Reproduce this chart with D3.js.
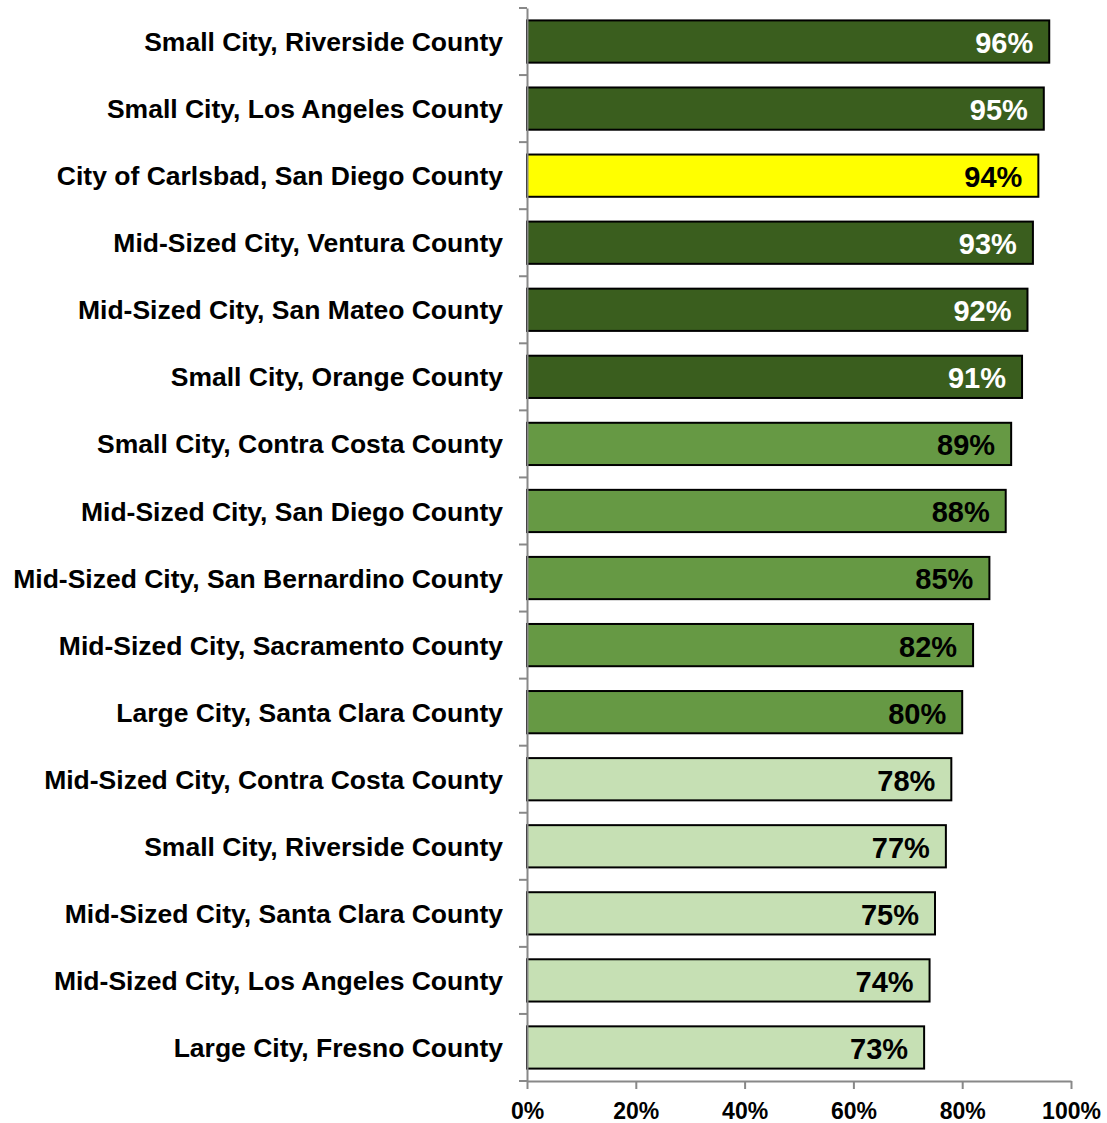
<!DOCTYPE html>
<html>
<head>
<meta charset="utf-8">
<script src="https://cdn.jsdelivr.net/npm/d3@7"></script>
<style>
  html, body { margin: 0; padding: 0; background: #fff; }
  svg { display: block; }
  text { font-family: "Liberation Sans", Arial, sans-serif; font-weight: bold; }
</style>
</head>
<body>
<svg id="chart" width="1107" height="1123"></svg>
<script>
// City names, top to bottom
const cities = [
  "Small City, Riverside County",
  "Small City, Los Angeles County",
  "City of Carlsbad, San Diego County",
  "Mid-Sized City, Ventura County",
  "Mid-Sized City, San Mateo County",
  "Small City, Orange County",
  "Small City, Contra Costa County",
  "Mid-Sized City, San Diego County",
  "Mid-Sized City, San Bernardino County",
  "Mid-Sized City, Sacramento County",
  "Large City, Santa Clara County",
  "Mid-Sized City, Contra Costa County",
  "Small City, Riverside County ",
  "Mid-Sized City, Santa Clara County",
  "Mid-Sized City, Los Angeles County",
  "Large City, Fresno County"
];
// Share of respondents (%)
const values = [96, 95, 94, 93, 92, 91, 89, 88, 85, 82, 80, 78, 77, 75, 74, 73];
// Tier of each city: 0 = top tier, 1 = middle, 2 = lower, "hl" = highlighted city
const tiers = [0, 0, "hl", 0, 0, 0, 1, 1, 1, 1, 1, 2, 2, 2, 2, 2];
const xTicks = [0, 20, 40, 60, 80, 100];

const fills = { 0: "#3a5e1e", 1: "#669944", 2: "#c6e0b4", hl: "#ffff00" };
const labelColors = { 0: "#ffffff", 1: "#000000", 2: "#000000", hl: "#000000" };

const svg = d3.select("#chart");
const margin = { left: 527, right: 36, top: 8, bottom: 42 };
const W = 1107, H = 1123;

const x = d3.scaleLinear().domain([0, 100]).range([margin.left, W - margin.right]);
const y = d3.scaleBand().domain(d3.range(cities.length))
  .range([margin.top, H - margin.bottom]).paddingInner(0.37).paddingOuter(0.185);

// Bars
svg.append("g").selectAll("rect").data(values).join("rect")
  .attr("x", x(0))
  .attr("y", (d, i) => y(i))
  .attr("width", d => x(d) - x(0))
  .attr("height", y.bandwidth())
  .attr("fill", (d, i) => fills[tiers[i]])
  .attr("stroke", "#000")
  .attr("stroke-width", 2);

// Value labels inside bar ends
svg.append("g").selectAll("text").data(values).join("text")
  .attr("x", d => x(d) - 16)
  .attr("y", (d, i) => y(i) + y.bandwidth() / 2 + 1)
  .attr("dy", "0.36em")
  .attr("text-anchor", "end")
  .attr("font-size", 29)
  .attr("fill", (d, i) => labelColors[tiers[i]])
  .text(d => d + "%");

// Category axis
const yAxis = d3.axisLeft(
  d3.scaleBand().domain(cities).range([margin.top, H - margin.bottom])
).tickSize(0).tickPadding(24);
const gy = svg.append("g").attr("transform", `translate(${x(0)},0)`).call(yAxis);
gy.select(".domain").attr("stroke", "#888").attr("stroke-width", 2);
gy.selectAll("text").attr("font-size", 26.5).attr("fill", "#000").attr("dy", "0.36em");

// Boundary tick marks between categories
const bounds = d3.range(cities.length + 1).map(i => margin.top + i * y.step());
svg.append("g").selectAll("line").data(bounds).join("line")
  .attr("x1", x(0) - 8).attr("x2", x(0))
  .attr("y1", d => d).attr("y2", d => d)
  .attr("stroke", "#888").attr("stroke-width", 2);

// Value axis
const xAxis = d3.axisBottom(x).tickValues(xTicks).tickFormat(d => d + "%")
  .tickSize(8).tickSizeOuter(0).tickPadding(14);
const gx = svg.append("g").attr("transform", `translate(0,${H - margin.bottom})`).call(xAxis);
gx.select(".domain").attr("stroke", "#888").attr("stroke-width", 2);
gx.selectAll(".tick line").attr("stroke", "#888").attr("stroke-width", 2);
gx.selectAll("text").attr("font-size", 23).attr("fill", "#000");
</script>
</body>
</html>
